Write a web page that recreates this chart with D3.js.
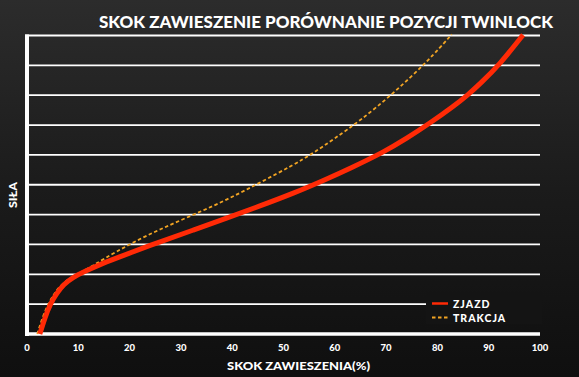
<!DOCTYPE html>
<html>
<head>
<meta charset="utf-8">
<script src="https://cdn.jsdelivr.net/npm/d3@7"></script>
<style>
  html, body { margin: 0; padding: 0; background: #161616; }
  svg { display: block; }
  text { fill: #ffffff; font-family: Lato, "DejaVu Sans", sans-serif; font-weight: 900; }
</style>
</head>
<body>
<div class="content"></div>
<script>
var width = 579, height = 377;

// data (x = skok %, y = grid units)
var zjazdX = [2.5, 3.5, 4.5, 5.8, 7.1, 9.0, 10.9, 14.8, 18.1, 25.9, 32.4, 38.9, 45.4, 51.9, 58.4, 63.0, 69.5, 74.0, 78.6, 83.1, 86.0, 88.3, 92.2, 96.7];
var zjazdY = [0, 0.55, 1.0, 1.36, 1.66, 1.9, 2.07, 2.37, 2.59, 3.09, 3.48, 3.88, 4.29, 4.71, 5.19, 5.55, 6.09, 6.55, 7.07, 7.62, 8.02, 8.38, 9.04, 10.02];
var trakcjaX = [2.0, 3.0, 4.1, 5.4, 6.8, 9.0, 11.6, 15.0, 20.1, 25.9, 32.4, 38.9, 45.4, 51.9, 55.8, 59.7, 64.9, 71.4, 78.2, 82.8];
var trakcjaY = [0, 0.55, 1.0, 1.38, 1.68, 1.94, 2.16, 2.52, 3.02, 3.51, 3.99, 4.49, 5.07, 5.66, 6.06, 6.52, 7.14, 8.06, 9.15, 10.04];
var xTicks = [0, 10, 20, 30, 40, 50, 60, 70, 80, 90, 100];
var yGrid = [1, 2, 3, 4, 5, 6, 7, 8, 9, 10];
var seriesNames = ['ZJAZD', 'TRAKCJA'];

var x = d3.scaleLinear().domain([0, 100]).range([27, 540]);
var y = d3.scaleLinear().domain([0, 10]).range([334, 35.5]);

var svg = d3.select('.content').append('svg')
  .attr('width', width)
  .attr('height', height);

var defs = svg.append('defs');
var bg = defs.append('linearGradient')
  .attr('id', 'bg')
  .attr('x1', '0%').attr('y1', '0%')
  .attr('x2', '0%').attr('y2', '100%');
bg.append('stop').attr('offset', '0%').style('stop-color', '#2c2c2c');
bg.append('stop').attr('offset', '50%').style('stop-color', '#1b1b1b');
bg.append('stop').attr('offset', '100%').style('stop-color', '#0f0f0f');

svg.append('rect')
  .attr('width', width)
  .attr('height', height)
  .attr('fill', 'url(#bg)');

// grid lines
svg.append('g').selectAll('line')
  .data(yGrid)
  .enter().append('line')
  .attr('x1', 25)
  .attr('x2', x(100))
  .attr('y1', function (d) { return y(d); })
  .attr('y2', function (d) { return y(d); })
  .attr('stroke', '#ffffff')
  .attr('stroke-width', 1.8);

// legend box hides part of lowest grid line
svg.append('rect')
  .attr('x', 426)
  .attr('y', 292)
  .attr('width', 116)
  .attr('height', 32)
  .attr('fill', '#141414');

// axes
svg.append('line')
  .attr('x1', 27).attr('x2', 27)
  .attr('y1', y(10) - 1).attr('y2', 336)
  .attr('stroke', '#ffffff')
  .attr('stroke-width', 4);
svg.append('line')
  .attr('x1', 25).attr('x2', x(100))
  .attr('y1', 334).attr('y2', 334)
  .attr('stroke', '#ffffff')
  .attr('stroke-width', 3.5);

// tick labels
svg.append('g').selectAll('text')
  .data(xTicks)
  .enter().append('text')
  .attr('x', function (d) { return x(d); })
  .attr('y', 351)
  .attr('text-anchor', 'middle')
  .style('font-size', '9.5px')
  .text(function (d) { return d; });

var line = d3.line()
  .x(function (d) { return x(d[0]); })
  .y(function (d) { return y(d[1]); })
  .curve(d3.curveBasis);

var trakcja = trakcjaX.map(function (v, i) { return [v, trakcjaY[i]]; });
var zjazd = zjazdX.map(function (v, i) { return [v, zjazdY[i]]; });

svg.append('path')
  .attr('d', line(trakcja))
  .attr('fill', 'none')
  .attr('stroke', '#f2a423')
  .attr('stroke-width', 1.8)
  .attr('stroke-dasharray', '3.5,2.5');

svg.append('path')
  .attr('d', line(zjazd))
  .attr('fill', 'none')
  .attr('stroke', '#ff2a06')
  .attr('stroke-width', 5);

// legend
var legend = svg.append('g')
  .attr('transform', 'translate(432,302)');
legend.selectAll('line')
  .data(seriesNames)
  .enter().append('line')
  .attr('x1', 0).attr('x2', 16)
  .attr('y1', function (d, i) { return i * 14 + 1.5; })
  .attr('y2', function (d, i) { return i * 14 + 1.5; })
  .attr('stroke', function (d, i) { return i ? '#f2a423' : '#ff2a06'; })
  .attr('stroke-width', function (d, i) { return i ? 1.8 : 2.5; })
  .attr('stroke-dasharray', function (d, i) { return i ? '3.5,2.5' : null; });
legend.selectAll('text')
  .data(seriesNames)
  .enter().append('text')
  .attr('x', 21)
  .attr('y', function (d, i) { return i * 14 + 5.5; })
  .style('font-size', '10.5px')
  .style('letter-spacing', '1px')
  .text(function (d) { return d; });

// titles
svg.append('text')
  .attr('x', 99)
  .attr('y', 28)
  .attr('textLength', 454)
  .attr('lengthAdjust', 'spacingAndGlyphs')
  .style('font-size', '16px')
  .text('SKOK ZAWIESZENIE PORÓWNANIE POZYCJI TWINLOCK');

svg.append('text')
  .attr('x', 227)
  .attr('y', 369.5)
  .attr('textLength', 143)
  .attr('lengthAdjust', 'spacingAndGlyphs')
  .style('font-size', '10.5px')
  .text('SKOK ZAWIESZENIA(%)');

svg.append('text')
  .attr('transform', 'translate(17,208) rotate(-90)')
  .attr('textLength', 26)
  .attr('lengthAdjust', 'spacingAndGlyphs')
  .style('font-size', '10.5px')
  .text('SIŁA');
</script>
</body>
</html>
